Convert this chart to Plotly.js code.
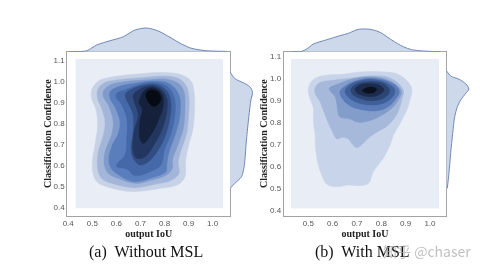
<!DOCTYPE html>
<html>
<head>
<meta charset="utf-8">
<script src="https://cdn.plot.ly/plotly-3.0.1.min.js"></script>
<style>html,body{margin:0;padding:0;background:#fff}#plot{width:484px;height:273px;filter:blur(0.5px)}</style>
</head>
<body>
<div id="plot"></div>
<script>
const xTicksA = [0.4,0.5,0.6,0.7,0.8,0.9,1.0];
const xTicksB = [0.5,0.6,0.7,0.8,0.9,1.0];
const yTicks = [0.4,0.5,0.6,0.7,0.8,0.9,1.0,1.1];
const tickFormat = ['0.4','0.5','0.6','0.7','0.8','0.9','1.0','1.1'];

const aBackground = [[.43,.392],[1.043,.392],[1.043,1.105],[.43,1.105]];
const bBackground = [[.429,.409],[1.037,.409],[1.037,1.086],[.429,1.086]];

const aLevel1 = [[.497,.957],[.525,1.0],[.58,1.019],[.677,1.032],[.774,1.041],[.864,1.032],[.91,1.0],[.924,.933],[.924,.838],[.916,.758],[.902,.702],[.888,.623],[.885,.543],[.857,.506],[.781,.487],[.664,.472],[.574,.491],[.522,.516],[.503,.559],[.5,.615],[.511,.694],[.522,.79],[.514,.869],[.497,.917]];
const aLevel2 = [[.522,.957],[.546,.989],[.608,1.006],[.705,1.016],[.802,1.024],[.864,1.009],[.892,.973],[.902,.917],[.899,.822],[.892,.75],[.871,.678],[.857,.615],[.86,.559],[.83,.527],[.76,.507],[.677,.491],[.594,.507],[.539,.535],[.522,.583],[.525,.662],[.546,.742],[.553,.806],[.539,.869],[.522,.917]];
const aLevel3 = [[.546,.952],[.574,.981],[.636,.997],[.733,1.006],[.809,1.009],[.857,.989],[.881,.949],[.885,.869],[.878,.774],[.855,.694],[.833,.623],[.833,.583],[.809,.551],[.747,.527],[.684,.511],[.608,.535],[.567,.559],[.55,.599],[.553,.662],[.58,.742],[.587,.806],[.567,.885],[.546,.925]];
const aLevel4 = [[.574,.949],[.608,.973],[.677,.989],[.754,1.0],[.809,.993],[.846,.961],[.864,.917],[.862,.822],[.846,.75],[.819,.662],[.809,.599],[.806,.567],[.747,.538],[.677,.519],[.622,.543],[.578,.583],[.569,.631],[.583,.694],[.608,.75],[.615,.806],[.594,.877],[.574,.917]];
const aLevel5 = [[.601,.941],[.643,.961],[.698,.984],[.754,.993],[.802,.981],[.83,.949],[.844,.901],[.841,.822],[.827,.75],[.799,.67],[.785,.599],[.733,.564],[.677,.548],[.643,.58],[.601,.591],[.605,.607],[.636,.647],[.643,.726],[.643,.822],[.619,.893],[.601,.917]];
const aLevel6 = [[.639,.941],[.677,.968],[.733,.984],[.781,.977],[.816,.941],[.827,.885],[.819,.806],[.799,.726],[.767,.659],[.733,.615],[.698,.599],[.67,.631],[.661,.678],[.67,.758],[.67,.837],[.65,.893],[.639,.917]];
const aLevel7 = [[.67,.933],[.705,.965],[.747,.977],[.785,.961],[.809,.917],[.809,.853],[.791,.774],[.76,.702],[.719,.639],[.684,.631],[.67,.662],[.673,.758],[.691,.837],[.677,.893]];
const aLevel8 = [[.698,.917],[.719,.957],[.754,.968],[.788,.941],[.795,.885],[.772,.806],[.747,.75],[.712,.702],[.698,.726],[.698,.806],[.708,.869],[.695,.893]];
const aLevel9 = [[.723,.941],[.747,.957],[.774,.946],[.785,.917],[.772,.888],[.754,.879],[.733,.901]];

const bLevel1 = [[.5,.953],[.518,.991],[.562,1.011],[.644,1.017],[.699,1.026],[.781,1.029],[.856,1.021],[.897,.996],[.925,.953],[.918,.9],[.902,.848],[.874,.787],[.85,.742],[.836,.696],[.808,.636],[.767,.575],[.747,.522],[.706,.512],[.665,.515],[.617,.507],[.576,.518],[.555,.56],[.541,.606],[.53,.681],[.528,.742],[.521,.802],[.521,.863],[.504,.916]];
const bLevel2 = [[.528,.956],[.548,.979],[.603,.99],[.671,.999],[.747,1.009],[.822,1.005],[.87,.976],[.891,.941],[.884,.9],[.866,.84],[.829,.787],[.774,.749],[.747,.727],[.699,.684],[.678,.704],[.665,.724],[.637,.73],[.617,.724],[.596,.764],[.569,.832],[.548,.893],[.528,.931]];
const bLevel3 = [[.586,.953],[.63,.976],[.685,.996],[.747,1.005],[.815,.996],[.863,.968],[.884,.938],[.874,.908],[.85,.87],[.808,.835],[.76,.81],[.706,.799],[.671,.814],[.628,.825],[.619,.87],[.61,.916],[.592,.938]];
const bLevel4 = [[.63,.938],[.658,.968],[.706,.991],[.76,.999],[.822,.987],[.863,.961],[.874,.935],[.856,.9],[.829,.87],[.781,.851],[.726,.855],[.678,.87],[.644,.9]];
const bLevel5 = [[.651,.941],[.671,.969],[.712,.987],[.76,.993],[.815,.981],[.85,.956],[.856,.935],[.836,.903],[.795,.881],[.747,.878],[.699,.89],[.665,.913]];
const bLevel6 = [[.674,.946],[.692,.969],[.726,.981],[.767,.984],[.808,.975],[.833,.95],[.829,.926],[.802,.905],[.76,.897],[.719,.905],[.685,.923]];
const bLevel7 = [[.692,.949],[.712,.969],[.747,.975],[.788,.969],[.811,.95],[.801,.931],[.767,.916],[.726,.92],[.702,.931]];
const bLevel8 = [[.722,.944],[.74,.956],[.76,.959],[.781,.95],[.774,.938],[.754,.931],[.733,.934]];

const aTopX = [.407,.477,.518,.574,.629,.677,.726,.774,.823,.871,.913,.975,1.059];
const aTopD = [.02,.14,.96,1.58,2.15,3.11,3.40,2.97,2.06,1.10,.48,.14,.05];
const aRightY = [1.044,1.012,.992,.973,.946,.909,.83,.718,.591,.543,.511,.487];
const aRightD = [0,.67,1.87,2.82,3.2,2.97,2.68,2.34,2.01,1.63,.67,0];
const bTopX = [.43,.473,.493,.521,.576,.63,.664,.706,.754,.795,.843,.89,.925,.973,1.041];
const bTopD = [0,.05,.38,1.1,1.72,2.3,2.63,3.21,3.21,2.78,1.67,.72,.29,.1,0];
const bRightY = [1.034,1.009,.994,.973,.95,.931,.901,.87,.825,.749,.659,.568,.5];
const bRightD = [0,.62,1.82,2.78,3.21,2.78,2.06,1.58,1.2,.91,.62,.38,.14];

const backgroundColor = '#e9eef6';
const aColors = ['#c8d2e6','#a3b6d9','#7f9bcb','#5a7dbb','#4468a8','#324d82','#233660','#15203a','#060a12'];
const bColors = ['#c8d4e9','#a6b9da','#829dca','#5a7bb8','#3f5f9b','#2d4573','#1d2c4d','#0a101d'];
const captionA = '(a)  Without MSL';
const captionB = '(b)  With MSL';
const watermark = '知乎 @chaser';
const xLabel = 'output IoU';
const yLabel = 'Classification Confidence';

function blob(points, color, xa, ya) {
  const pts = points.concat([points[0]]);
  return {type:'scatter', mode:'lines', x:pts.map(p=>p[0]), y:pts.map(p=>p[1]),
    xaxis:xa, yaxis:ya, fill:'toself', fillcolor:color,
    line:{color:color, width:0.5, shape:'spline', smoothing:1}, hoverinfo:'skip', showlegend:false};
}
function rect(points, color, xa, ya) {
  const t = blob(points, color, xa, ya);
  t.line = {color:color, width:0, shape:'linear'};
  return t;
}
const margin = {type:'scatter', mode:'lines', fillcolor:'#cdd8ea', line:{color:'#7189b8', width:1, shape:'spline', smoothing:0.8}, hoverinfo:'skip', showlegend:false};

const aLevels = [aLevel1,aLevel2,aLevel3,aLevel4,aLevel5,aLevel6,aLevel7,aLevel8,aLevel9];
const bLevels = [bLevel1,bLevel2,bLevel3,bLevel4,bLevel5,bLevel6,bLevel7,bLevel8];

const traces = [rect(aBackground, backgroundColor, 'x', 'y'), rect(bBackground, backgroundColor, 'x2', 'y2')];
aLevels.forEach((l,i)=>traces.push(blob(l, aColors[i], 'x', 'y')));
bLevels.forEach((l,i)=>traces.push(blob(l, bColors[i], 'x2', 'y2')));
traces.push(Object.assign({}, margin, {x:aTopX, y:aTopD, xaxis:'x3', yaxis:'y3', fill:'tozeroy'}));
traces.push(Object.assign({}, margin, {x:aRightD, y:aRightY, xaxis:'x4', yaxis:'y4', fill:'tozerox'}));
traces.push(Object.assign({}, margin, {x:bTopX, y:bTopD, xaxis:'x5', yaxis:'y5', fill:'tozeroy'}));
traces.push(Object.assign({}, margin, {x:bRightD, y:bRightY, xaxis:'x6', yaxis:'y6', fill:'tozerox'}));

const tickFont = {family:'"Liberation Sans", Arial, sans-serif', size:8, color:'#555'};
const titleFont = {family:'"Liberation Serif", serif', size:10, color:'#222'};
const frame = {showline:true, mirror:true, linecolor:'#a3a3a3', linewidth:1, showgrid:false, zeroline:false, ticks:'', tickfont:tickFont, automargin:false};
const hidden = {visible:false, fixedrange:true};
const yDom = [0.2099, 0.8106];
const topDom = [0.8106, 0.9267];
const maxD = 4.55;

const layout = {
  width:484, height:273, margin:{l:0,r:0,t:0,b:0}, paper_bgcolor:'#fff', plot_bgcolor:'#fff', showlegend:false,
  xaxis:Object.assign({}, frame, {domain:[.139,.4752], range:[.396,1.072], tickvals:xTicksA, ticktext:tickFormat.slice(0,7), anchor:'y',
    title:{text:'<b>'+xLabel+'</b>', font:titleFont, standoff:0}}),
  yaxis:Object.assign({}, frame, {domain:yDom, range:[.357,1.14], tickvals:yTicks, ticktext:tickFormat, anchor:'x',
    title:{text:'<b>'+yLabel+'</b>', font:titleFont, standoff:0}}),
  xaxis2:Object.assign({}, frame, {domain:[.5862,.9221], range:[.399,1.067], tickvals:xTicksB, ticktext:tickFormat.slice(1,7), anchor:'y2',
    title:{text:'<b>'+xLabel+'</b>', font:titleFont, standoff:0}}),
  yaxis2:Object.assign({}, frame, {domain:yDom, range:[.376,1.119], tickvals:yTicks, ticktext:tickFormat, anchor:'x2',
    title:{text:'<b>'+yLabel+'</b>', font:titleFont, standoff:0}}),
  xaxis3:Object.assign({}, hidden, {domain:[.139,.4752], range:[.396,1.072], anchor:'y3'}),
  yaxis3:Object.assign({}, hidden, {domain:topDom, range:[0,maxD], anchor:'x3'}),
  xaxis4:Object.assign({}, hidden, {domain:[.4752,.5413], range:[0,maxD], anchor:'y4'}),
  yaxis4:Object.assign({}, hidden, {domain:yDom, range:[.357,1.14], anchor:'x4'}),
  xaxis5:Object.assign({}, hidden, {domain:[.5862,.9221], range:[.399,1.067], anchor:'y5'}),
  yaxis5:Object.assign({}, hidden, {domain:topDom, range:[0,maxD], anchor:'x5'}),
  xaxis6:Object.assign({}, hidden, {domain:[.9221,.9882], range:[0,maxD], anchor:'y6'}),
  yaxis6:Object.assign({}, hidden, {domain:yDom, range:[.376,1.119], anchor:'x6'}),
  annotations:[
    {xref:'paper', yref:'paper', x:146/484, y:1-252/273, text:captionA.replace('  ','&nbsp; '), showarrow:false, xanchor:'center', yanchor:'middle', font:{family:'"Liberation Serif", serif', size:16, color:'#111'}},
    {xref:'paper', yref:'paper', x:362.5/484, y:1-252/273, text:captionB.replace('  ','&nbsp; '), showarrow:false, xanchor:'center', yanchor:'middle', font:{family:'"Liberation Serif", serif', size:16, color:'#111'}},
    {xref:'paper', yref:'paper', x:473/484, y:1-251/273, text:watermark, showarrow:false, xanchor:'right', yanchor:'middle', font:{family:'"Noto Sans CJK SC", "Noto Sans", sans-serif', size:14, color:'rgba(165,165,165,0.7)'}}
  ]
};
Plotly.newPlot('plot', traces, layout, {displayModeBar:false, staticPlot:true});
</script>
</body>
</html>
